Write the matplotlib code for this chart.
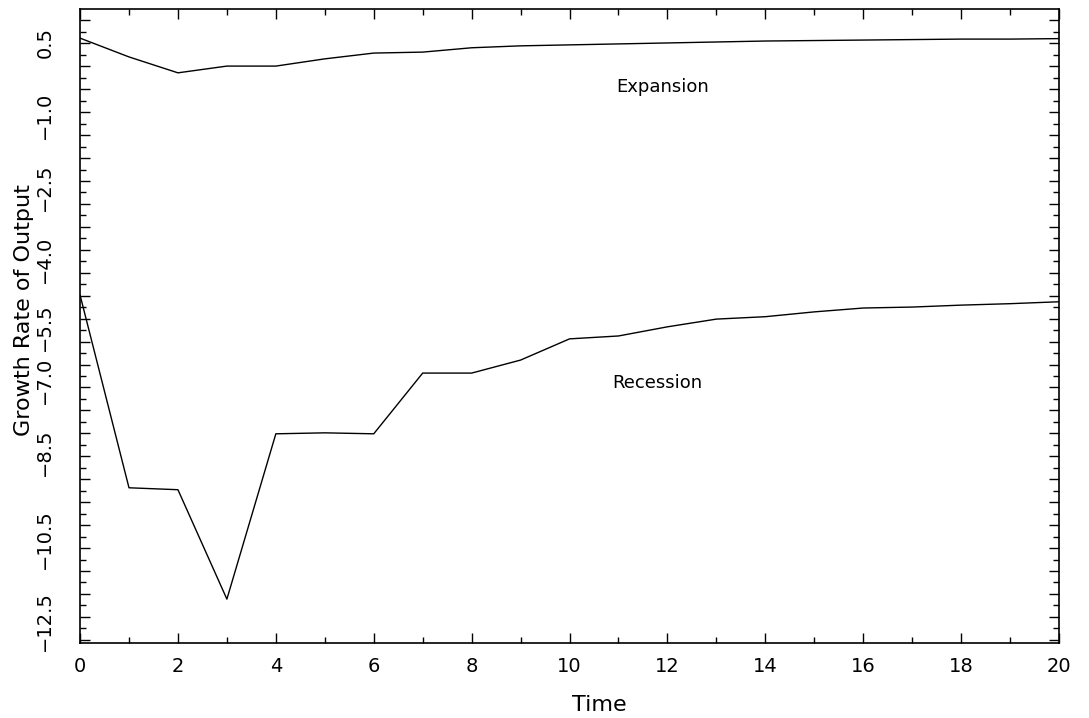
import matplotlib
matplotlib.use("Agg")
import matplotlib.pyplot as plt
import numpy as np

# data
time = list(range(21))
expansion = [0.60, 0.21, -0.12, 0.02, 0.02, 0.17, 0.29, 0.31, 0.40, 0.44, 0.46,
             0.48, 0.50, 0.52, 0.54, 0.55, 0.56, 0.57, 0.58, 0.58, 0.59]
recession = [-4.73, -8.73, -8.77, -11.04, -7.61, -7.59, -7.61, -6.35, -6.35, -6.08,
             -5.64, -5.58, -5.39, -5.23, -5.18, -5.08, -5.00, -4.98, -4.94, -4.91, -4.87]

# the y labels of the original sit at uneven places
ylabel_pos = [0.5, -1.0, -2.5, -4.0, -5.4, -6.5, -8.0, -9.8, -11.5]
ylabel_txt = ["0.5", "\u22121.0", "\u22122.5", "\u22124.0", "\u22125.5",
              "\u22127.0", "\u22128.5", "\u221210.5", "\u221212.5"]
xtick_pos = list(range(0, 21, 2))

fig = plt.figure(figsize=(10.89, 7.18), dpi=100)
ax = fig.add_axes([0.0735, 0.1045, 0.899, 0.883])

ax.plot(time, expansion, color="black", linewidth=1.0)
ax.plot(time, recession, color="black", linewidth=1.0)

ax.set_xlim(0, 20)
ax.set_ylim(-11.95, 1.205)

ax.set_xticks(xtick_pos)
ax.set_xticks(range(21), minor=True)
ax.set_xticklabels([str(v) for v in xtick_pos], fontsize=14)

step = 0.238
ax.set_yticks(np.arange(1.205 - step, -11.95, -2 * step))
ax.set_yticks(np.arange(1.205 - 2 * step, -11.95, -2 * step), minor=True)

ax.tick_params(axis="both", which="both", direction="in", top=True, right=True,
               width=1.0, color="black")
ax.tick_params(axis="x", which="major", length=7, pad=10)
ax.tick_params(axis="x", which="minor", length=4)
ax.tick_params(axis="y", which="major", length=7, labelleft=False)
ax.tick_params(axis="y", which="minor", length=4)

for p, t in zip(ylabel_pos, ylabel_txt):
    ax.text(-0.036, p, t, transform=ax.get_yaxis_transform(), rotation=90,
            ha="center", va="center", fontsize=14)

for s in ax.spines.values():
    s.set_linewidth(1.2)

ax.text(11.9, -0.41, "Expansion", fontsize=13, ha="center", va="center")
ax.text(11.8, -6.55, "Recession", fontsize=13, ha="center", va="center")

ax.set_xlabel("Time", fontsize=16, labelpad=14, x=0.53)
fig.text(0.022, 0.568, "Growth Rate of Output", rotation=90, fontsize=16,
         ha="center", va="center")

fig.savefig("out.png", dpi=100)
